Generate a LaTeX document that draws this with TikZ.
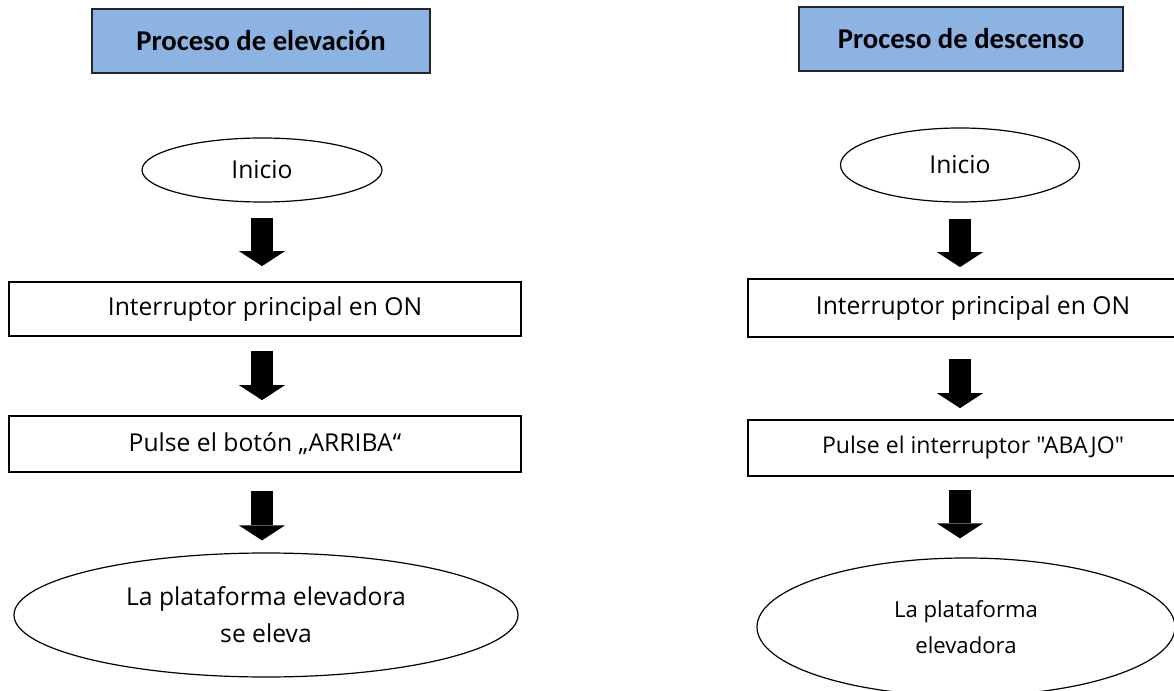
\documentclass[tikz,border=0pt]{standalone}
\usepackage{fontspec}
\setmainfont{Open Sans}[Ligatures=TeXOff]
\newfontfamily\titlefont{Carlito}
\usetikzlibrary{shapes.geometric,arrows.meta,calc}
\definecolor{titleblue}{RGB}{141,179,226}
\begin{document}
\begin{tikzpicture}[x=0.75pt,y=-0.75pt,
  titlebox/.style={draw=black!85, line width=1.5pt, fill=titleblue, inner sep=0pt,
    font=\titlefont\bfseries\fontsize{21.5}{26}\selectfont},
  stepbox/.style={draw, line width=1.3pt, inner sep=0pt, font=\fontsize{18.5}{22}\selectfont},
  terminal/.style={draw, ellipse, line width=0.9pt, inner sep=0pt, align=center,
    font=\fontsize{18.5}{27.5}\selectfont},
  blockarrow/.style={line width=16.5pt, -{Triangle[width=34.5pt,length=11.25pt,line width=0pt]}}]
\clip (0,0) rectangle (1174,691);
\fill[white] (0,0) rectangle (1174,691);

% titles
\node[titlebox, minimum width=253.5pt, minimum height=48pt] (tl) at (261,41) {Proceso de elevación};
\node[titlebox, minimum width=243pt, minimum height=48pt] (tr) at (961,39) {Proceso de descenso};

% left column
\node[terminal, minimum width=180pt, minimum height=48pt] (i1) at (262,170) {Inicio};
\node[stepbox, minimum width=384pt, minimum height=40.5pt] (b1) at (265,309) {Interruptor principal en ON};
\node[stepbox, minimum width=384pt, minimum height=42pt] (b2) at (265,444) {Pulse el botón „ARRIBA“};
\node[terminal, minimum width=378pt, minimum height=93pt] (e1) at (266,615) {La plataforma elevadora\\se eleva};

\draw[blockarrow] ($(i1.south)+(0,15)$) -- ($(i1.south |- b1.north)+(0,-15)$);
\draw[blockarrow] ($(i1.south |- b1.south)+(0,14)$) -- ($(i1.south |- b2.north)+(0,-15)$);
\draw[blockarrow] ($(i1.south |- b2.south)+(0,18)$) -- ($(i1.south |- e1.north)+(0,-12)$);

% right column
\node[terminal, minimum width=179.25pt, minimum height=55.5pt] (i2) at (960,165) {Inicio};
\node[stepbox, minimum width=337.5pt, minimum height=43.5pt] (b3) at (973,308) {Interruptor principal en ON};
\node[stepbox, minimum width=337.5pt, minimum height=42pt, font=\fontsize{17.3}{21}\selectfont] (b4) at (973,448) {Pulse el interruptor "ABAJO"};
\node[terminal, minimum width=313.5pt, minimum height=103.5pt, font=\fontsize{16.6}{27}\selectfont] (e2) at (966,627) {La plataforma\\elevadora};

\draw[blockarrow] ($(i2.south)+(0,16)$) -- ($(i2.south |- b3.north)+(0,-11)$);
\draw[blockarrow] ($(i2.south |- b3.south)+(0,21)$) -- ($(i2.south |- b4.north)+(0,-11)$);
\draw[blockarrow] ($(i2.south |- b4.south)+(0,13)$) -- ($(i2.south |- e2.north)+(0,-19)$);
\end{tikzpicture}
\end{document}
